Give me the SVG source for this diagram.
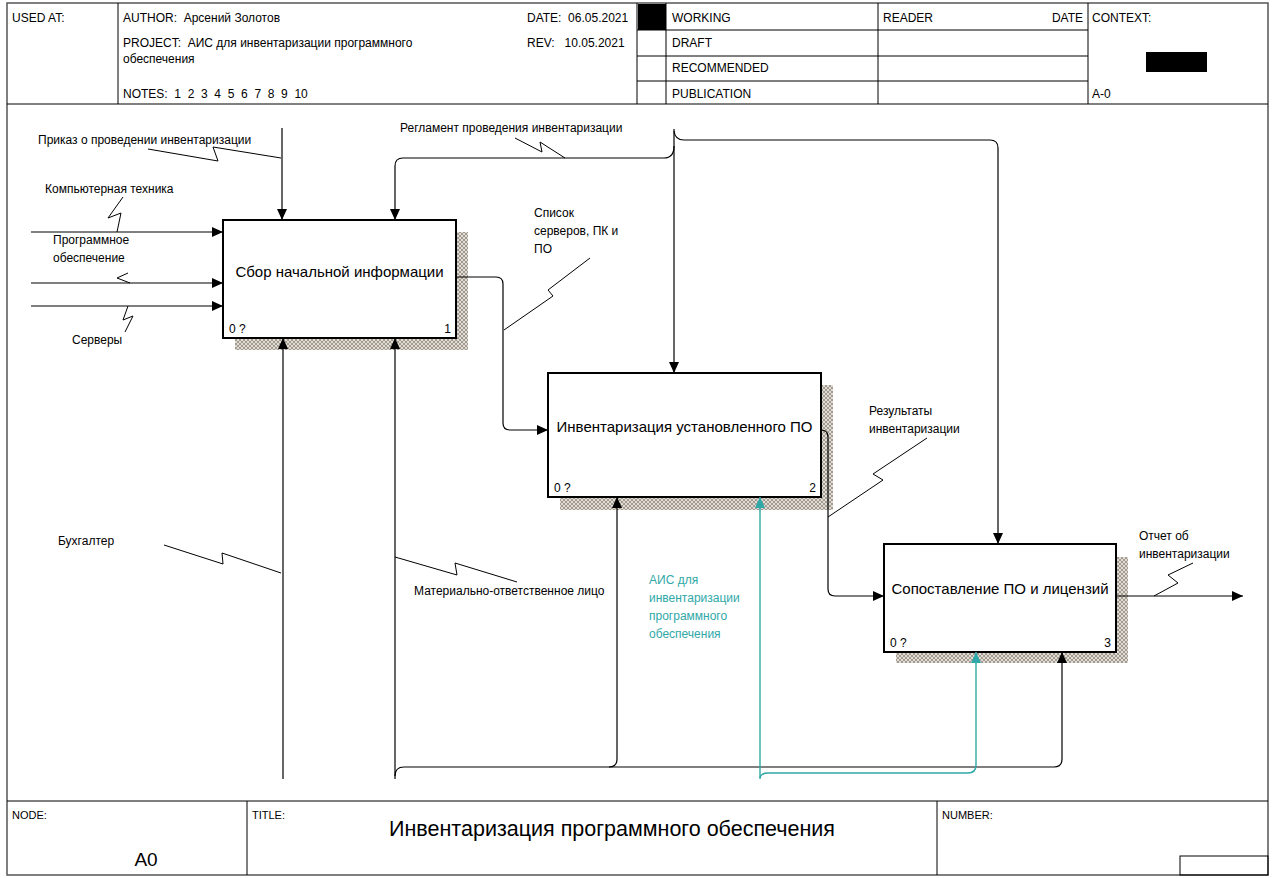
<svg xmlns="http://www.w3.org/2000/svg" width="1272" height="878" viewBox="0 0 1272 878">
<style>
text{font-family:"Liberation Sans",Arial,sans-serif;fill:#000}
.h{font-size:12px}
.f{font-size:11px}
.lb{font-size:12px}
.bx{font-size:15px}
.num{font-size:12px}
.teal{fill:#2fa8a8}
.frame{fill:none;stroke:#555;stroke-width:1.5}
.grid{stroke:#000;stroke-width:1;fill:none}
.box{fill:#fff;stroke:#000;stroke-width:2}
.sh{fill:url(#hatch)}
.c{fill:none;stroke:#000;stroke-width:1.2}
.ct{fill:none;stroke:#2fa8a8;stroke-width:1.4}
.sq{fill:none;stroke:#000;stroke-width:1}
</style>
<defs>
<pattern id="hatch" patternUnits="userSpaceOnUse" width="4" height="4">
<rect width="4" height="4" fill="#e2ddd4"/>
<path d="M0,0 L4,4 M4,0 L0,4" stroke="#857e74" stroke-width="0.7"/>
</pattern>
<marker id="ah" markerUnits="userSpaceOnUse" markerWidth="11" markerHeight="10" refX="11" refY="5" orient="auto">
<path d="M0,0 L11,5 L0,10 z" fill="#000"/>
</marker>
<marker id="aht" markerUnits="userSpaceOnUse" markerWidth="11" markerHeight="10" refX="11" refY="5" orient="auto">
<path d="M0,0 L11,5 L0,10 z" fill="#2fa8a8"/>
</marker>
</defs>
<rect width="1272" height="878" fill="#fff"/>

<g id="frame">
<rect class="frame" x="7" y="3" width="1261" height="872"/>
<path class="grid" d="M7,104 H1268 M118,3 V104 M637,3 V104 M666,3 V104 M878,3 V104 M1088,3 V104 M637,30 H1088 M637,56 H1088 M637,81 H1088"/>
<rect x="638" y="4" width="28" height="26" fill="#000"/>
<rect x="1146" y="52" width="61" height="20" fill="#000"/>
<text class="h" x="12" y="22">USED AT:</text>
<text class="h" x="123" y="22" xml:space="preserve">AUTHOR:  Арсений Золотов</text>
<text class="h" x="527" y="22" xml:space="preserve">DATE:  06.05.2021</text>
<text class="h" x="123" y="47" xml:space="preserve">PROJECT:  АИС для инвентаризации программного</text>
<text class="h" x="123" y="63">обеспечения</text>
<text class="h" x="527" y="47" xml:space="preserve">REV:   10.05.2021</text>
<text class="h" x="123" y="98" xml:space="preserve">NOTES:  1  2  3  4  5  6  7  8  9  10</text>
<text class="h" x="672" y="22">WORKING</text>
<text class="h" x="672" y="47">DRAFT</text>
<text class="h" x="672" y="72">RECOMMENDED</text>
<text class="h" x="672" y="98">PUBLICATION</text>
<text class="h" x="883" y="22">READER</text>
<text class="h" x="1083" y="22" text-anchor="end">DATE</text>
<text class="h" x="1092" y="22">CONTEXT:</text>
<text class="h" x="1092" y="98">A-0</text>
<path class="grid" d="M7,801 H1268 M247,801 V875 M937,801 V875"/>
<rect class="grid" x="1180" y="856" width="88" height="19"/>
<text class="f" x="12" y="819">NODE:</text>
<text class="f" x="252" y="819">TITLE:</text>
<text class="f" x="942" y="819">NUMBER:</text>
<text x="146" y="866" font-size="19" text-anchor="middle">A0</text>
<text x="612" y="836" font-size="21.5" text-anchor="middle">Инвентаризация программного обеспечения</text>
</g>

<g id="node1">
<rect class="sh" x="456" y="232" width="12" height="118"/>
<rect class="sh" x="235" y="338" width="233" height="12"/>
<rect class="box" x="223" y="220" width="233" height="118"/>
<text class="bx" x="339.5" y="277" text-anchor="middle">Сбор начальной информации</text>
<text class="num" x="229" y="333">0 ?</text>
<text class="num" x="451" y="333" text-anchor="end">1</text>
</g>

<g id="node2">
<rect class="sh" x="821" y="385" width="12" height="125"/>
<rect class="sh" x="560" y="497" width="273" height="13"/>
<rect class="box" x="548" y="373" width="273" height="124"/>
<text class="bx" x="684.5" y="432" text-anchor="middle">Инвентаризация установленного ПО</text>
<text class="num" x="554" y="492">0 ?</text>
<text class="num" x="816" y="492" text-anchor="end">2</text>
</g>

<g id="node3">
<rect class="sh" x="1116" y="557" width="12" height="106"/>
<rect class="sh" x="896" y="652" width="232" height="11"/>
<rect class="box" x="884" y="544" width="232" height="108"/>
<text class="bx" x="1000" y="594" text-anchor="middle">Сопоставление ПО и лицензий</text>
<text class="num" x="890" y="647">0 ?</text>
<text class="num" x="1111" y="647" text-anchor="end">3</text>
</g>

<g id="connectors">
<path class="c" d="M31,232 H223" marker-end="url(#ah)"/>
<path class="c" d="M31,283 H223" marker-end="url(#ah)"/>
<path class="c" d="M31,306 H223" marker-end="url(#ah)"/>
<path class="c" d="M282,128 V220" marker-end="url(#ah)"/>
<path class="c" d="M674,129 V373" marker-end="url(#ah)"/>
<path class="c" d="M674,146 Q674,158 664,158 H403 Q395,158 395,166 V220" marker-end="url(#ah)"/>
<path class="c" d="M674,131 Q675,140 684,140 H990 Q998,140 998,148 V544" marker-end="url(#ah)"/>
<path class="c" d="M456,277 H496 Q503,277 503,284 V423 Q503,430 510,430 H548" marker-end="url(#ah)"/>
<path class="c" d="M821,430 Q828,430 828,437 V589 Q828,596 835,596 H884" marker-end="url(#ah)"/>
<path class="c" d="M1116,596 H1243" marker-end="url(#ah)"/>
<path class="c" d="M283,779 V338" marker-end="url(#ah)"/>
<path class="c" d="M395,779 V338" marker-end="url(#ah)"/>
<path class="c" d="M395,776 Q395,767 404,767 H1054 Q1062,767 1062,759 V652" marker-end="url(#ah)"/>
<path class="c" d="M609,767 Q617,767 617,759 V497" marker-end="url(#ah)"/>
<path class="ct" d="M760,778 V497" marker-end="url(#aht)"/>
<path class="ct" d="M760,779 Q760,773 768,773 H968 Q976,773 976,765 V652" marker-end="url(#aht)"/>
<polyline class="sq" points="148,149 218,161 213,147 281,158"/>
<polyline class="sq" points="515,138 542,152 540,142 565,158"/>
<polyline class="sq" points="123,197 108,218 121,213 117,232"/>
<polyline class="sq" points="128,273 117,278 130,283"/>
<polyline class="sq" points="125,332 133,316 123,320 128,306"/>
<polyline class="sq" points="590,258 548,290 553,296 504,330"/>
<polyline class="sq" points="927,438 873,474 883,480 828,517"/>
<polyline class="sq" points="1193,563 1168,575 1178,583 1154,596"/>
<polyline class="sq" points="164,545 223,564 222,553 281,573"/>
<polyline class="sq" points="395,557 457,575 455,563 517,582"/>
</g>

<g id="labels">
<text class="lb" x="38" y="144">Приказ о проведении инвентаризации</text>
<text class="lb" x="400" y="132">Регламент проведения инвентаризации</text>
<text class="lb" x="45" y="193">Компьютерная техника</text>
<text class="lb" x="53" y="244">Программное</text>
<text class="lb" x="53" y="262">обеспечение</text>
<text class="lb" x="72" y="344">Серверы</text>
<text class="lb" x="534" y="217">Список</text>
<text class="lb" x="534" y="235">серверов, ПК и</text>
<text class="lb" x="534" y="253">ПО</text>
<text class="lb" x="869" y="415">Результаты</text>
<text class="lb" x="869" y="433">инвентаризации</text>
<text class="lb" x="1139" y="540">Отчет об</text>
<text class="lb" x="1139" y="558">инвентаризации</text>
<text class="lb" x="58" y="545">Бухгалтер</text>
<text class="lb" x="414" y="595">Материально-ответственное лицо</text>
<text class="lb teal" x="649" y="584">АИС для</text>
<text class="lb teal" x="649" y="602">инвентаризации</text>
<text class="lb teal" x="649" y="620">программного</text>
<text class="lb teal" x="649" y="638">обеспечения</text>
</g>
</svg>
